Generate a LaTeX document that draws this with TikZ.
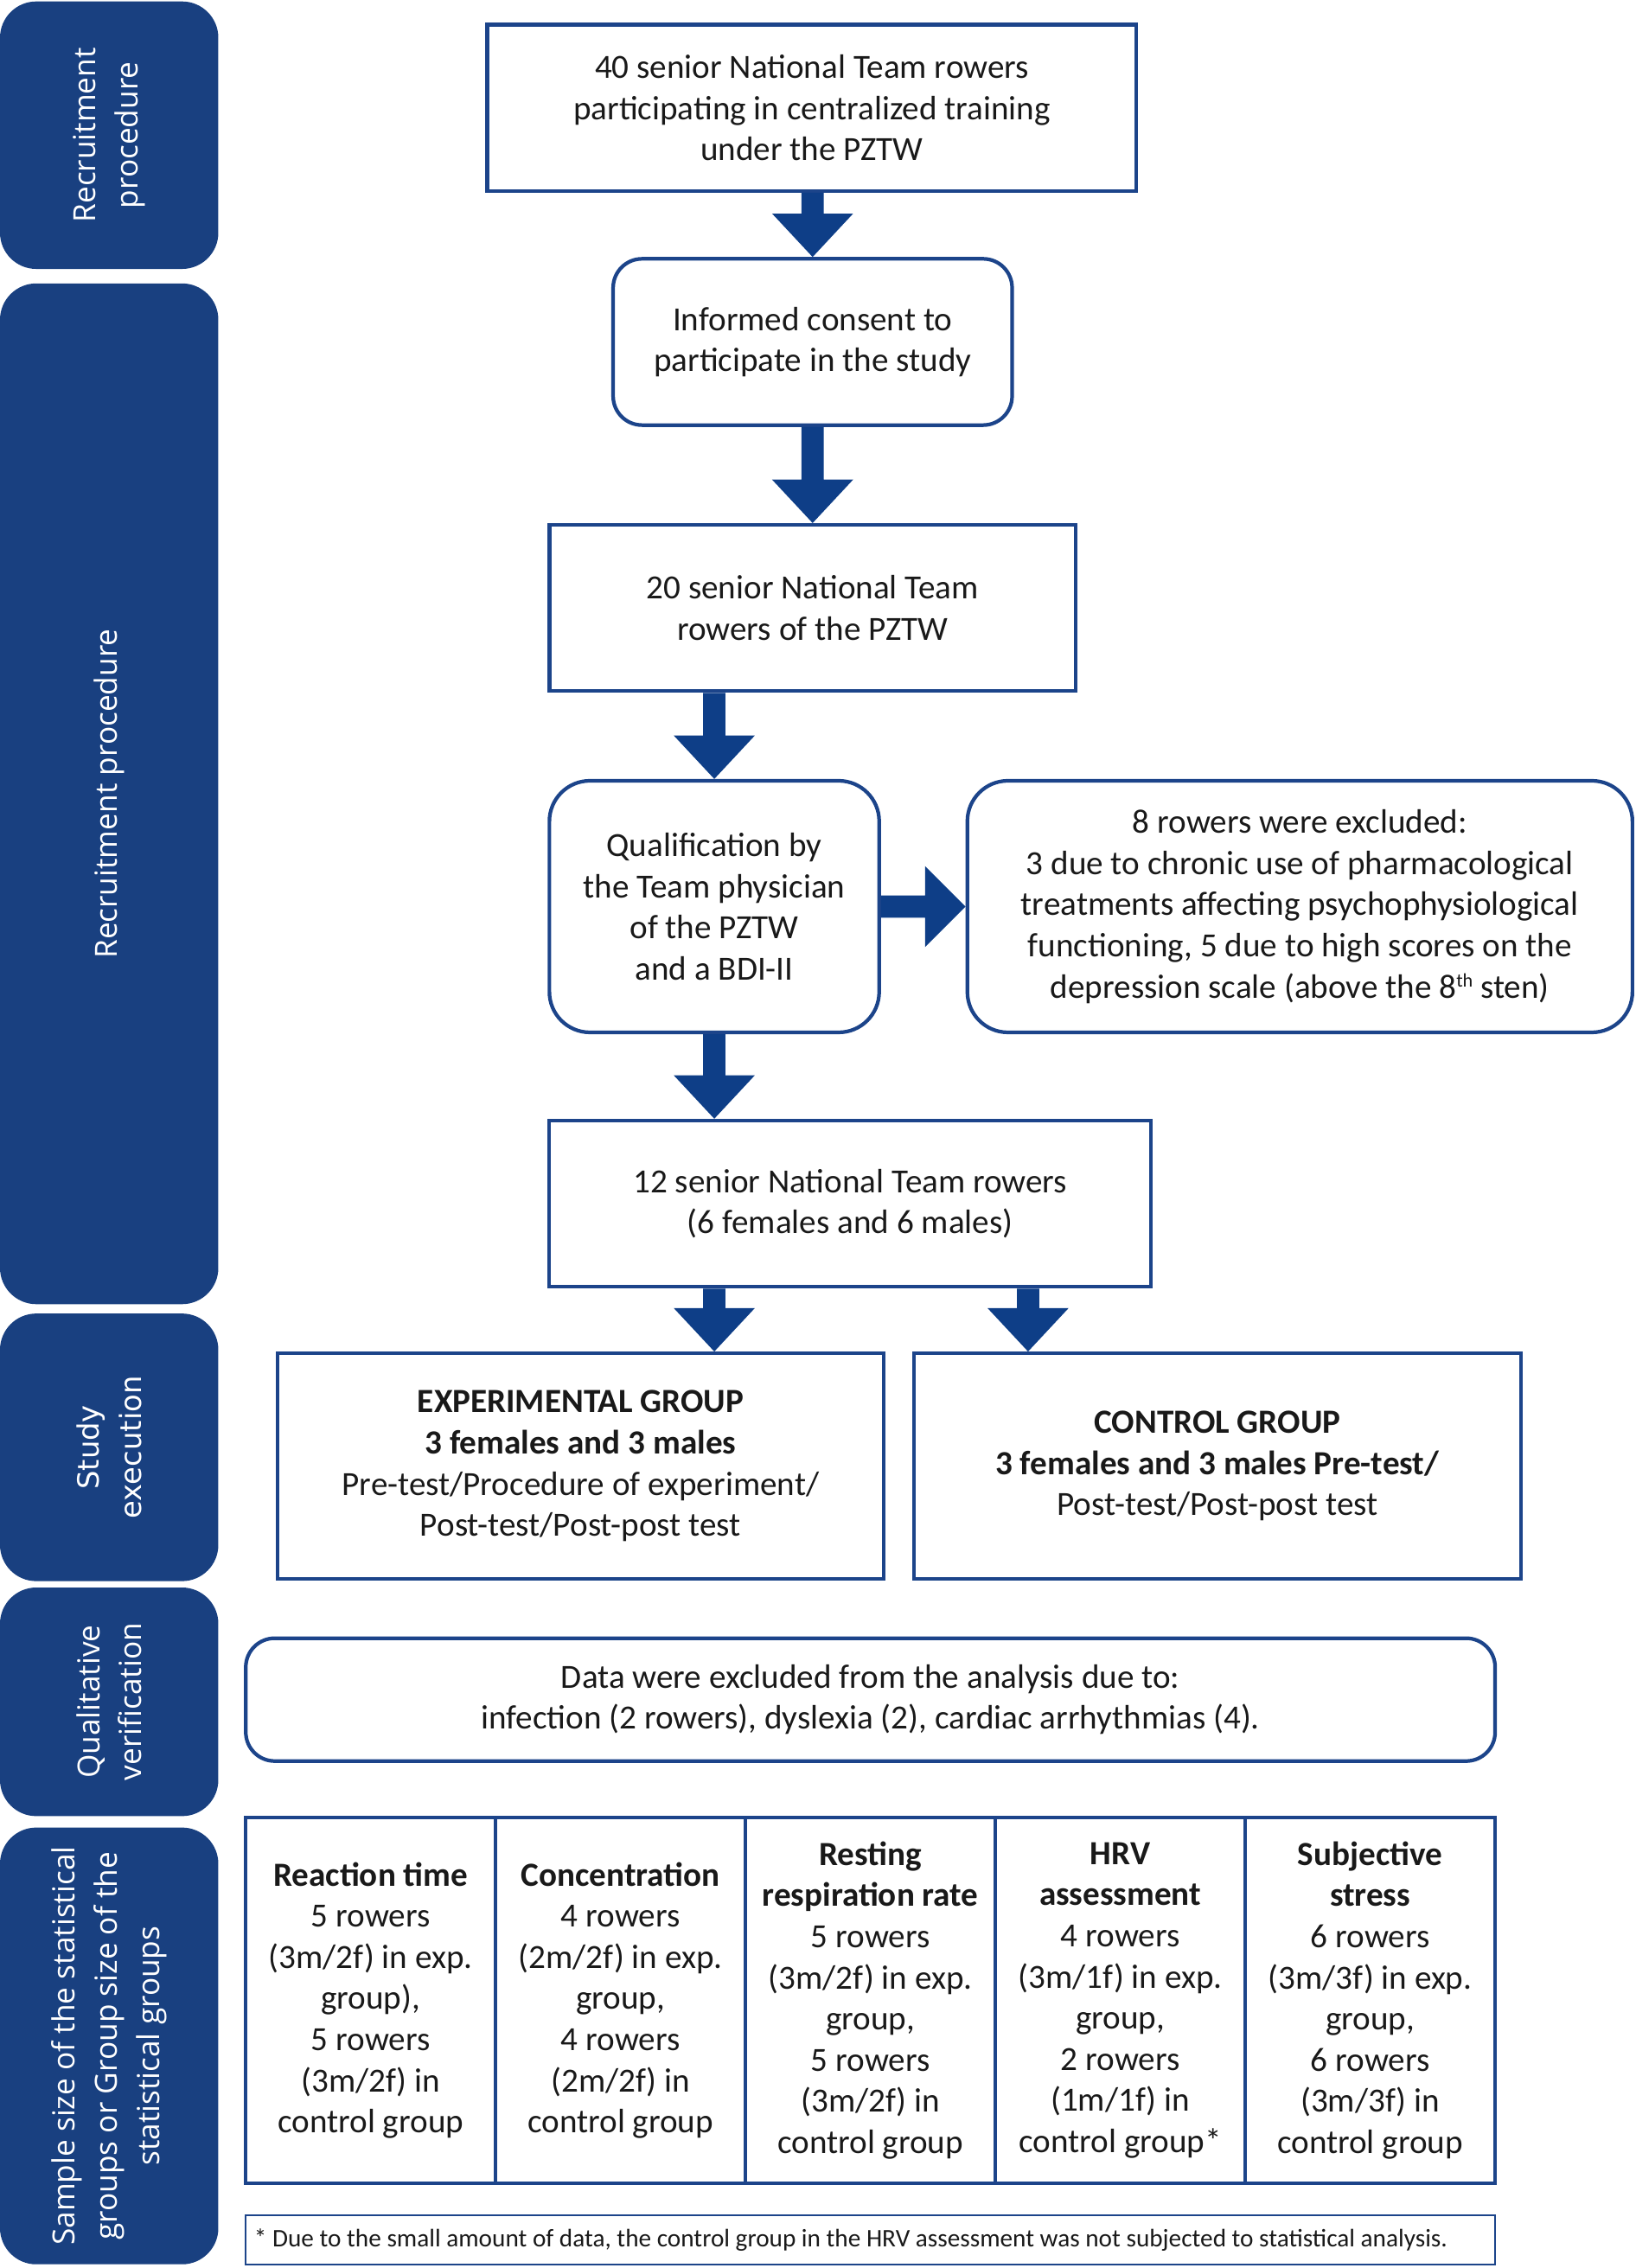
\documentclass[tikz,border=0pt]{standalone}
\usepackage{fontspec}
\setmainfont{Carlito}
\newfontfamily\sidefont{Open Sans}
\newfontfamily\sidefontv{DejaVu Sans}
\usetikzlibrary{calc}
\definecolor{panelc}{RGB}{25,64,128}
\definecolor{linec}{RGB}{28,68,138}
\definecolor{arrowc}{RGB}{14,62,135}
\newcommand\mainsz{\fontsize{11.1}{13.5}\selectfont}
\newcommand\sidesz{\fontsize{10}{13.8}\selectfont}
\newcommand\supth{\raisebox{3.6pt}{\fontsize{6.3}{6.3}\selectfont th}}
\newcommand\blkdown[2]{\fill[arrowc] ($(#1)+(-7.7,0)$) -- ($(#1)+(7.7,0)$) -- ($(#2)+(7.7,-30)$) -- ($(#2)+(28,-30)$) -- (#2) -- ($(#2)+(-28,-30)$) -- ($(#2)+(-7.7,-30)$) -- cycle;}
\newcommand\blkright[2]{\fill[arrowc] ($(#1)+(0,-7.7)$) -- ($(#2)+(-28,-7.7)$) -- ($(#2)+(-28,-28)$) -- (#2) -- ($(#2)+(-28,28)$) -- ($(#2)+(-28,7.7)$) -- ($(#1)+(0,7.7)$) -- cycle;}
\begin{document}
\begin{tikzpicture}[x=0.4744pt, y=-0.4744pt,
  panel/.style={fill=panelc, draw=none, rounded corners=11.9pt, minimum width=71.63pt, inner sep=0pt},
  sidelabel/.style={text=white, rotate=90, align=center, font=\sidefont\sidesz, inner sep=0pt},
  box/.style={draw=linec, line width=1.2pt, align=center, inner sep=0pt, font=\mainsz, text=black!90},
  rbox/.style={box, rounded corners=13.3pt},
  cell/.style={box, minimum width=82.0pt, minimum height=120.0pt}
]
\useasboundingbox (0,0) rectangle (1131,1568.6);

% side panels
\node[panel, minimum height=87.76pt] (p1) at (75.5,93.5) {};
\node[panel, minimum height=334.9pt] (p2) at (75.5,549) {};
\node[panel, minimum height=87.8pt] (p3) at (75.5,1001) {};
\node[panel, minimum height=75.0pt] (p4) at (75.5,1177) {};
\node[panel, minimum height=143.3pt] (p5) at (75.5,1415) {};
\node[sidelabel] (l1) at (p1.center) {Recruitment\\procedure};
\node[sidelabel] (l2) at (p2.center) {Recruitment procedure};
\node[sidelabel, font=\sidefontv\fontsize{9.6}{13.8}\selectfont] (l3) at (p3.center) {Study\\execution};
\node[sidelabel] (l4) at (p4.center) {Qualitative\\verification};
\node[sidelabel] (l5) at (p5.center) {Sample size of the statistical\\groups or Group size of the\\statistical groups};

% main boxes
\node[box, minimum width=213.0pt, minimum height=54.56pt] (b1) at (561.5,74.5)
  {40 senior National Team rowers\\participating in centralized training\\under the PZTW};
\node[rbox, rounded corners=9.5pt, minimum width=130.9pt, minimum height=54.56pt] (b2) at (562,236.5)
  {Informed consent to\\participate in the study};
\node[box, minimum width=172.7pt, minimum height=54.56pt] (b3) at (562,420.5)
  {20 senior National Team\\rowers of the PZTW};
\node[rbox, minimum width=108.2pt, minimum height=82.55pt] (b4) at (494,627)
  {Qualification by\\the Team physician\\of the PZTW\\and a BDI-II};
\node[rbox, minimum width=218.2pt, minimum height=82.55pt] (b5) at (899,627)
  {8 rowers were excluded:\\3 due to chronic use of pharmacological\\treatments affecting psychophysiological\\functioning, 5 due to high scores on the\\depression scale (above the 8\supth{} sten)};
\node[box, minimum width=197.4pt, minimum height=54.56pt] (b6) at (588,832.5)
  {12 senior National Team rowers\\(6 females and 6 males)};
\node[box, minimum width=198.8pt, minimum height=74.0pt] (b7) at (401.5,1014)
  {\textbf{EXPERIMENTAL GROUP}\\\textbf{3 females and 3 males}\\Pre-test/Procedure of experiment/\\Post-test/Post-post test};
\node[box, minimum width=199.2pt, minimum height=74.0pt] (b8) at (842,1014)
  {\textbf{CONTROL GROUP}\\\textbf{3 females and 3 males Pre-test/}\\Post-test/Post-post test};
\node[rbox, rounded corners=9.5pt, minimum width=409.9pt, minimum height=40.3pt] (b9) at (602,1175.5)
  {Data were excluded from the analysis due to:\\infection (2 rowers), dyslexia (2), cardiac arrhythmias (4).};

% table
\node[cell] (t1) at (256.4,1383.5) {\textbf{Reaction time}\\5 rowers\\(3m/2f) in exp.\\group),\\5 rowers\\(3m/2f) in\\control group};
\node[cell] (t2) at (429.2,1383.5) {\textbf{Concentration}\\4 rowers\\(2m/2f) in exp.\\group,\\4 rowers\\(2m/2f) in\\control group};
\node[cell] (t3) at (602,1383.5) {\textbf{Resting}\\\textbf{respiration rate}\\5 rowers\\(3m/2f) in exp.\\group,\\5 rowers\\(3m/2f) in\\control group};
\node[cell] (t4) at (774.8,1383.5) {\textbf{HRV}\\\textbf{assessment}\\4 rowers\\(3m/1f) in exp.\\group,\\2 rowers\\(1m/1f) in\\control group*};
\node[cell] (t5) at (947.6,1383.5) {\textbf{Subjective}\\\textbf{stress}\\6 rowers\\(3m/3f) in exp.\\group,\\6 rowers\\(3m/3f) in\\control group};

% footnote
\node[draw=linec, line width=0.6pt, minimum width=409.9pt, minimum height=16.1pt, inner sep=0pt] (fn) at (602,1549) {};
\node[anchor=west, inner sep=0pt, font=\fontsize{8.3}{9.8}\selectfont, text=black!90] (fnt) at ($(fn.west)+(6,0)$)
  {* Due to the small amount of data, the control group in the HRV assessment was not subjected to statistical analysis.};

% arrows
\coordinate (c6) at (711,0);
\blkdown{b2.north |- b1.south}{b2.north}
\blkdown{b2.south}{b3.north}
\blkdown{b4.north |- b3.south}{b4.north}
\blkdown{b4.south}{b4.south |- b6.north}
\blkdown{b4.south |- b6.south}{b4.south |- b7.north}
\blkdown{c6 |- b6.south}{c6 |- b8.north}
\blkright{b4.east}{b5.west}
\end{tikzpicture}
\end{document}
